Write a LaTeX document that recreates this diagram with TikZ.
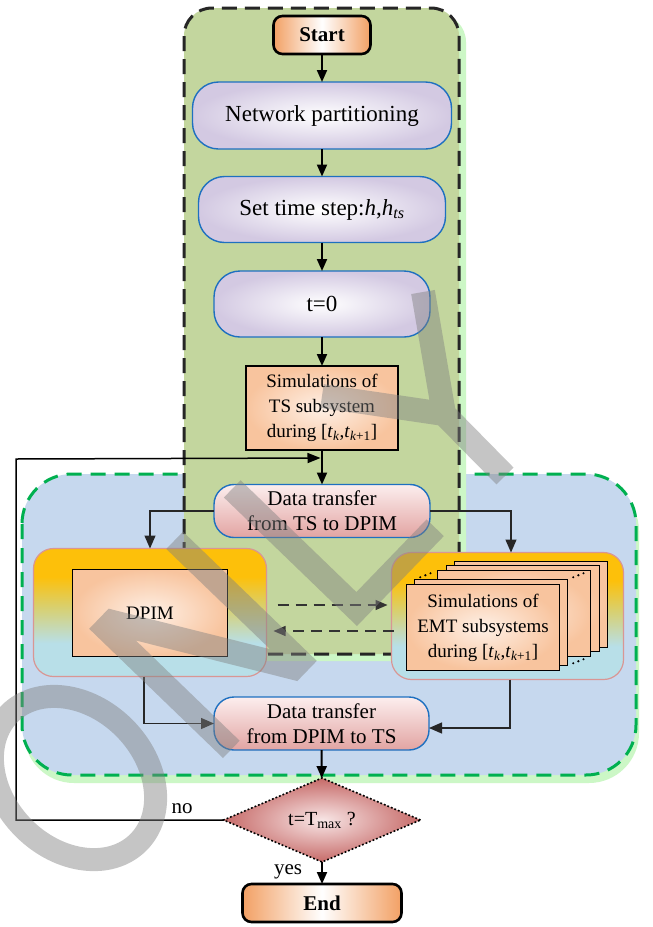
\documentclass[tikz,border=0pt]{standalone}
\usepackage{fontspec}
\setmainfont{Liberation Serif}
\usetikzlibrary{arrows.meta,calc,shapes.geometric}

% palette
\definecolor{colgreen}{RGB}{195,214,158}
\definecolor{colblue}{RGB}{198,216,238}
\definecolor{colglow}{RGB}{204,247,198}
\definecolor{coldash}{RGB}{0,176,80}
\definecolor{colorng}{RGB}{242,160,100}
\definecolor{collav}{RGB}{211,201,226}
\definecolor{colbord}{RGB}{30,112,192}
\definecolor{colpeach}{RGB}{248,196,158}
\definecolor{colpeachlt}{RGB}{254,240,230}
\definecolor{colpinktop}{RGB}{252,238,238}
\definecolor{colpinkbot}{RGB}{226,164,162}
\definecolor{colamber}{RGB}{253,192,10}
\definecolor{colcyan}{RGB}{184,223,232}
\definecolor{colgrpmid}{RGB}{216,208,112}
\definecolor{colgrpbord}{RGB}{217,150,148}
\definecolor{colrose}{RGB}{198,106,104}
\definecolor{colroselt}{RGB}{248,230,230}
\definecolor{colmark}{RGB}{128,128,128}

% amber-to-cyan fill of the two group panels
\pgfdeclareverticalshading{grpfill}{100bp}{color(0bp)=(colcyan); color(38bp)=(colcyan); color(52bp)=(colgrpmid); color(64bp)=(colamber); color(100bp)=(colamber)}

\tikzset{
  every node/.style={inner sep=0pt, outer sep=0pt, align=center},
  termbox/.style={draw=black, line width=2.6pt, rounded corners=9pt,
    left color=colorng, right color=colorng, middle color=white,
    font=\fontsize{21}{25}\selectfont\bfseries},
  procbox/.style={draw=colbord, line width=1.4pt, rounded corners=26pt,
    inner color=white, outer color=collav, font=\fontsize{23}{28}\selectfont},
  simbox/.style={draw=black, line width=1.4pt, inner color=colpeachlt,
    outer color=colpeach, font=\fontsize{19}{25}\selectfont},
  xferbox/.style={draw=colbord, line width=1.4pt, rounded corners=20pt,
    top color=colpinktop, bottom color=colpinkbot, font=\fontsize{21}{25}\selectfont},
  grpbox/.style={draw=colgrpbord, line width=1.2pt, rounded corners=20pt, shading=grpfill},
  decbox/.style={diamond, aspect=2.3, draw=black, line width=1.6pt,
    dash pattern=on 1.8pt off 2pt, inner color=colroselt, outer color=colrose,
    font=\fontsize{20}{24}\selectfont},
  flow/.style={draw=black, line width=2pt, -{Triangle[length=12pt,width=10pt]}},
  link/.style={draw=black!85, line width=1.3pt, -{Triangle[length=13pt,width=11pt]}},
  dlink/.style={draw=black!80, line width=1.3pt, dash pattern=on 11pt off 7pt,
    -{Triangle[length=12pt,width=10pt]}},
  fbline/.style={draw=black, line width=1.5pt, -{Triangle[length=13pt,width=10pt]}},
  dotline/.style={draw=black, line width=2.3pt, line cap=round, dash pattern=on 0pt off 5.5pt},
  lbl/.style={font=\fontsize{21}{25}\selectfont},
  wmark/.style={draw=colmark, fill=colmark, draw opacity=0.45, fill opacity=0.45},
}

\begin{document}
\begin{tikzpicture}[x=1pt,y=-1pt]
\useasboundingbox (0,0) rectangle (653,927);
\fill[white] (0,0) rectangle (653,927);

% blue EMT/DPIM region with its light rim
\fill[colglow, rounded corners=50pt] (24,481) rectangle (639,783);
\path[fill=colblue, draw=coldash, line width=3pt, dash pattern=on 15pt off 9pt,
  rounded corners=50pt] (22,474) rectangle (636,775);

% green TS column with its light rim
\fill[colglow, rounded corners=28pt] (190,14) rectangle (466,661);
\path[fill=colgreen, draw=black!85, line width=3pt, dash pattern=on 15pt off 8pt,
  rounded corners=28pt] (184,8) rectangle (459,654);

% main column
\node[termbox, minimum width=97pt, minimum height=38pt] (start) at (322,35) {Start};
\node[procbox, minimum width=259pt, minimum height=67pt] (np) at (322,115.5) {Network partitioning};
\node[procbox, minimum width=247pt, minimum height=66pt] (sts) at (322,209.5)
  {Set time step:\textit{h},\textit{h}\textsubscript{\textit{ts}}};
\node[procbox, minimum width=216pt, minimum height=66pt] (t0) at (322,304) {t=0};
\node[simbox, minimum width=152pt, minimum height=84pt] (ts) at (322,408)
  {Simulations of\\TS subsystem\\during [\textit{t}\textsubscript{\textit{k}},\textit{t}\textsubscript{\textit{k}+1}]};
\node[xferbox, minimum width=216pt, minimum height=53pt] (dt1) at (322,511)
  {Data transfer\\from TS to DPIM};

% DPIM panel
\node[grpbox, minimum width=233pt, minimum height=128pt] (dpimgrp) at (150,612.5) {};
\node[simbox, minimum width=155pt, minimum height=87pt] (dpim) at (150,613) {DPIM};

% EMT panel with stacked subsystem sheets
\node[grpbox, minimum width=232pt, minimum height=127pt] (emtgrp) at (507.5,616) {};
\node[simbox, minimum width=153pt, minimum height=86pt] (emtb1) at (531,604.5) {};
\node[simbox, minimum width=153pt, minimum height=86pt] (emtb2) at (523,608.5) {};
\node[simbox, minimum width=153pt, minimum height=86pt] (emtb3) at (514,613.5) {};
\node[simbox, minimum width=153pt, minimum height=86pt] (emtb4) at (491,622.5) {};
\node[simbox, minimum width=153pt, minimum height=86pt] (emt) at (483,627.5)
  {Simulations of\\EMT subsystems\\during [\textit{t}\textsubscript{\textit{k}},\textit{t}\textsubscript{\textit{k}+1}]};
\foreach \c in {north west, north east, south east}
  \draw[dotline] ($(emtb4.\c)!0.25!(emtb3.\c)$) -- ($(emtb4.\c)!0.85!(emtb3.\c)$);

\node[xferbox, minimum width=215pt, minimum height=53pt] (dt2) at (321.5,723.5)
  {Data transfer\\from DPIM to TS};

% decision and end
\node[decbox, minimum width=197pt, minimum height=84pt] (dia) at (322,820)
  {t=T\textsubscript{max} ?};
\node[termbox, minimum width=159pt, minimum height=38pt] (end) at (322,903) {End};

% connectors
\draw[flow] (start) -- (np);
\draw[flow] (np) -- (sts);
\draw[flow] (sts) -- (t0);
\draw[flow] (t0) -- (ts);
\draw[flow] (ts) -- (dt1);
\draw[link] (dt1.west) -| (dpimgrp.north);
\draw[link] (dt1.east) -| ($(emtgrp.north)+(3.5,0)$);
\draw[link] ($(dpimgrp.south)+(-6,0)$) |- (dt2.west);
\draw[link] ($(emtgrp.south)+(2.5,0)$) |- ($(dt2.east)+(0,4.5)$);
\draw[dlink] ($(dpimgrp.east)+(11,-7.5)$) -- ($(emtgrp.west)+(-4,-11)$);
\draw[dlink] ($(emtgrp.west)+(2,15)$) -- ($(dpimgrp.east)+(7,18.5)$);
\draw[flow] (dt2) -- (dia);
\draw[flow] (dia) -- (end);

% loop back
\coordinate (fb) at ($(ts.south)+(0,8)$);
\coordinate (lp) at (16,459);
\draw[fbline, shorten >=1.5pt] (dia.west) -| (lp) -- (fb);
\node[lbl] (nolbl) at (182,809) {no};
\node[lbl] (yeslbl) at (288,872) {yes};

% grey overlay lettering
\begin{scope}[wmark]
  \draw[line width=23pt, fill=none, rotate around={-45:(74,778)}] (74,778) ellipse [x radius=91, y radius=71];
  \begin{scope}[shift={(223pt,-758pt)}, rotate=46, x=1pt, y=1pt]
    \fill (0,0) -- (24,0) -- (24,186) -- (0,186) -- cycle
          (111,0) -- (135,0) -- (135,186) -- (111,186) -- cycle
          (0,186) -- (107,0) -- (135,0) -- (28,186) -- cycle;
  \end{scope}
  \begin{scope}[shift={(357pt,-626pt)}, rotate=46, x=1pt, y=1pt]
    \fill (0,0) -- (125,0) -- (125,24) -- (24,24) -- (24,185) -- (0,185) -- cycle;
  \end{scope}
  \draw[line width=24pt, fill=none] (322,396) -- (444,414) -- (505,476) (423,292) -- (444,414);
\end{scope}
\end{tikzpicture}
\end{document}
